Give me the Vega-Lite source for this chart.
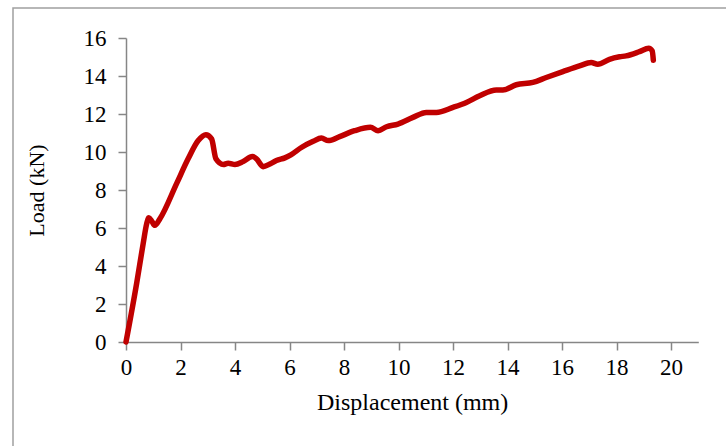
{
  "$schema": "https://vega.github.io/schema/vega-lite/v6.json",
  "autosize": "none",
  "width": 722,
  "height": 446,
  "padding": {"left": 13, "top": 8, "right": 0, "bottom": 0},
  "background": "white",
  "config": {
    "view": {"stroke": "#a0a0a0", "strokeWidth": 1.5},
    "font": "Liberation Serif"
  },
  "data": {
    "values": [
      {"disp": 0, "load": 0},
      {"disp": 0.39, "load": 3.08},
      {"disp": 0.63, "load": 5.18},
      {"disp": 0.76, "load": 6.23},
      {"disp": 0.84, "load": 6.54},
      {"disp": 0.95, "load": 6.35},
      {"disp": 1.06, "load": 6.14},
      {"disp": 1.25, "load": 6.5},
      {"disp": 1.86, "load": 8.35},
      {"disp": 2.28, "load": 9.64},
      {"disp": 2.65, "load": 10.6},
      {"disp": 2.93, "load": 10.91},
      {"disp": 3.14, "load": 10.69},
      {"disp": 3.3, "load": 9.64},
      {"disp": 3.57, "load": 9.34},
      {"disp": 3.75, "load": 9.41},
      {"disp": 4.0, "load": 9.34},
      {"disp": 4.3, "load": 9.5},
      {"disp": 4.64, "load": 9.76},
      {"disp": 4.79, "load": 9.64},
      {"disp": 5.03, "load": 9.23},
      {"disp": 5.28, "load": 9.37},
      {"disp": 5.52, "load": 9.55},
      {"disp": 5.83, "load": 9.69},
      {"disp": 6.05, "load": 9.85},
      {"disp": 6.45, "load": 10.25},
      {"disp": 6.87, "load": 10.56},
      {"disp": 7.17, "load": 10.74},
      {"disp": 7.42, "load": 10.6},
      {"disp": 7.84, "load": 10.81},
      {"disp": 8.39, "load": 11.12},
      {"disp": 8.97, "load": 11.3},
      {"disp": 9.25, "load": 11.12},
      {"disp": 9.56, "load": 11.33},
      {"disp": 9.98, "load": 11.47},
      {"disp": 10.53, "load": 11.82},
      {"disp": 11.02, "load": 12.08},
      {"disp": 11.39, "load": 12.08},
      {"disp": 12.0, "load": 12.35},
      {"disp": 12.49, "load": 12.61},
      {"disp": 12.98, "load": 12.96},
      {"disp": 13.59, "load": 13.26},
      {"disp": 13.83, "load": 13.26},
      {"disp": 14.32, "load": 13.54},
      {"disp": 14.93, "load": 13.66},
      {"disp": 15.42, "load": 13.92},
      {"disp": 16.03, "load": 14.23},
      {"disp": 16.64, "load": 14.53},
      {"disp": 17.07, "load": 14.71},
      {"disp": 17.31, "load": 14.62},
      {"disp": 17.74, "load": 14.88},
      {"disp": 18.11, "load": 15.01},
      {"disp": 18.35, "load": 15.06},
      {"disp": 18.84, "load": 15.28},
      {"disp": 19.18, "load": 15.46},
      {"disp": 19.31, "load": 15.32},
      {"disp": 19.35, "load": 14.83}
    ]
  },
  "mark": {
    "type": "line",
    "color": "#C00000",
    "strokeWidth": 5.5,
    "strokeCap": "round",
    "strokeJoin": "round",
    "interpolate": "monotone"
  },
  "encoding": {
    "x": {
      "field": "disp",
      "type": "quantitative",
      "scale": {"domain": [0, 21], "range": [113, 685.3], "nice": false, "zero": false},
      "axis": {
        "orient": "bottom",
        "offset": -112,
        "values": [0, 2, 4, 6, 8, 10, 12, 14, 16, 18, 20],
        "grid": false,
        "labelFlush": false,
        "domainColor": "#868686",
        "domainWidth": 1.5,
        "tickColor": "#868686",
        "tickWidth": 1.5,
        "tickSize": 8,
        "labelFont": "Liberation Serif",
        "labelFontSize": 23,
        "labelColor": "#000000",
        "labelPadding": 6,
        "title": "Displacement (mm)",
        "titleFont": "Liberation Serif",
        "titleFontSize": 24,
        "titleFontWeight": "normal",
        "titleColor": "#000000",
        "titlePadding": 11
      }
    },
    "y": {
      "field": "load",
      "type": "quantitative",
      "scale": {"domain": [0, 16], "range": [334, 30], "nice": false, "zero": false},
      "axis": {
        "orient": "left",
        "offset": -113,
        "values": [0, 2, 4, 6, 8, 10, 12, 14, 16],
        "grid": false,
        "labelFlush": false,
        "domainColor": "#868686",
        "domainWidth": 1.5,
        "tickColor": "#868686",
        "tickWidth": 1.5,
        "tickSize": 8,
        "labelFont": "Liberation Serif",
        "labelFontSize": 23,
        "labelColor": "#000000",
        "labelPadding": 12,
        "title": "Load (kN)",
        "titleFont": "Liberation Serif",
        "titleFontSize": 22,
        "titleFontWeight": "normal",
        "titleColor": "#000000",
        "titlePadding": 35
      }
    }
  }
}
